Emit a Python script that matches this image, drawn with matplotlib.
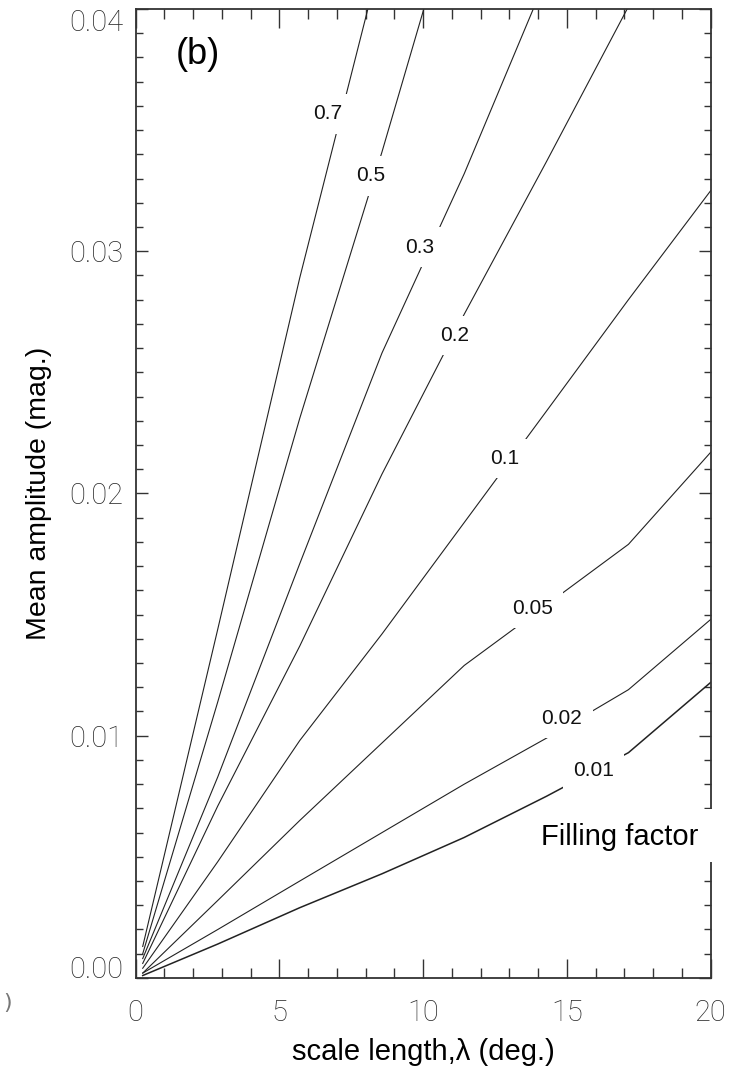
import matplotlib
matplotlib.use("Agg")
import matplotlib.pyplot as plt
from matplotlib.patches import Rectangle
from matplotlib.ticker import MultipleLocator, FormatStrFormatter

# scale length knots (deg.)
lam = [0.25, 2.86, 5.71, 8.57, 11.43, 14.29, 17.14, 20.0]

# mean amplitude (mag.) for each filling factor
amp_001 = [0.0001, 0.0014, 0.0029, 0.0043, 0.0058, 0.0075, 0.0093, 0.0122]
amp_002 = [0.0002, 0.0020, 0.0040, 0.0060, 0.0080, 0.0099, 0.0119, 0.0148]
amp_005 = [0.0002, 0.0032, 0.0065, 0.0097, 0.0129, 0.0154, 0.0179, 0.0217]
amp_01 = [0.0004, 0.0048, 0.0098, 0.0142, 0.0188, 0.0234, 0.0280, 0.0325]
amp_02 = [0.0006, 0.0071, 0.0137, 0.0208, 0.0274, 0.0337, 0.0401]
amp_03 = [0.0008, 0.0083, 0.0171, 0.0258, 0.0332, 0.0413]
amp_05 = [0.0010, 0.0114, 0.0231, 0.0341, 0.0457]
amp_07 = [0.0013, 0.0144, 0.0289, 0.0423]

fill_labels = ["0.01", "0.02", "0.05", "0.1", "0.2", "0.3", "0.5", "0.7"]
amps = [amp_001, amp_002, amp_005, amp_01, amp_02, amp_03, amp_05, amp_07]
label_x = [15.92, 14.82, 13.79, 12.82, 11.09, 9.87, 8.19, 6.67]
label_y = [0.00858, 0.01071, 0.01525, 0.02144, 0.02652, 0.03017, 0.03312, 0.03567]

fig = plt.figure(figsize=(7.39, 10.66), dpi=100)
ax = fig.add_axes([0.1834, 0.0826, 0.7783, 0.909])

for name, a in zip(fill_labels, amps):
    lw = 1.1 if name == "0.01" else 0.8
    ax.plot(lam[:len(a)], a, color="#222222", lw=lw, zorder=2)

arial = ["Liberation Sans", "DejaVu Sans"]
for name, lx, ly in zip(fill_labels, label_x, label_y):
    ax.text(lx, ly, name, ha="center", va="center", fontsize=15, family=arial,
            color="#111111", zorder=3,
            bbox=dict(boxstyle="square,pad=0.5", fc="white", ec="none"))

ax.set_xlim(0, 20)
ax.set_ylim(0, 0.04)

ax.xaxis.set_major_locator(MultipleLocator(5))
ax.xaxis.set_minor_locator(MultipleLocator(1))
ax.yaxis.set_major_locator(MultipleLocator(0.01))
ax.yaxis.set_minor_locator(MultipleLocator(0.001))
ax.yaxis.set_major_formatter(FormatStrFormatter("%.2f"))

ax.tick_params(axis="both", which="both", direction="in", top=True, right=True,
               color="#333333", width=1.0)
ax.tick_params(axis="x", which="major", length=14, pad=15)
ax.tick_params(axis="x", which="minor", length=7)
ax.tick_params(axis="y", which="major", length=8.5, pad=9)
ax.tick_params(axis="y", which="minor", length=5)

fig.canvas.draw()
for tick in ax.xaxis.get_major_ticks() + ax.yaxis.get_major_ticks():
    lab = tick.label1
    lab.set_family(["Roboto", "DejaVu Sans"])
    lab.set_fontweight("light")
    lab.set_fontsize(21)
    lab.set_color("#2a2a2a")

# end labels sit inside the frame, as in the original
for tick in ax.yaxis.get_major_ticks():
    loc = tick.get_loc()
    if abs(loc) < 1e-9:
        tick.label1.set_verticalalignment("baseline")
    elif abs(loc - 0.04) < 1e-9:
        tick.label1.set_verticalalignment("top")

for sp in ax.spines.values():
    sp.set_linewidth(1.3)
    sp.set_color("#333333")

ax.set_xlabel("scale length,\u03bb (deg.)", fontsize=21, family=arial, labelpad=8)
ax.set_ylabel("Mean amplitude (mag.)", fontsize=20.5, family=arial, labelpad=12)

ax.text(2.18, 0.0381, "(b)", fontsize=26, family=arial, ha="center", va="center")

# white patch breaking the right spine behind the legend title
ax.add_patch(Rectangle((0.686, 0.12), 0.33, 0.054, transform=ax.transAxes,
                       fc="white", ec="none", clip_on=False, zorder=4))
ax.text(16.85, 0.00583, "Filling factor", fontsize=21, family=arial,
        ha="center", va="center", zorder=5)

# clipped tick label from the neighbouring panel
fig.text(0.004, 0.059, ")", fontsize=16, color="#777777", va="center")

fig.savefig("out.png", dpi=100)
